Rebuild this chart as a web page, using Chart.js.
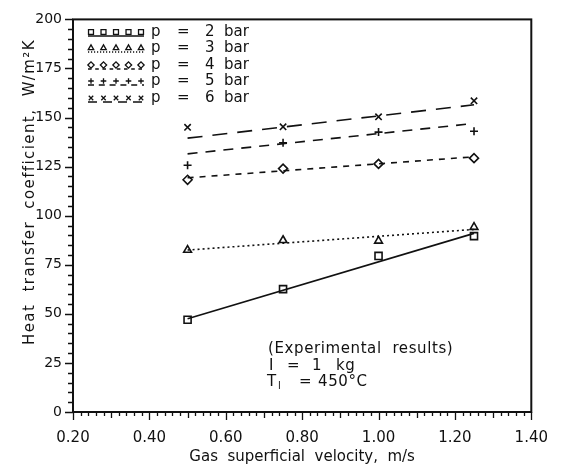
<!DOCTYPE html>
<html>
<head>
<meta charset="utf-8">
<script src="https://cdn.jsdelivr.net/npm/chart.js@4.4.1/dist/chart.umd.min.js"></script>
<style>
  html, body { margin: 0; padding: 0; background: #fff; }
  #wrap { width: 565px; height: 470px; }
</style>
</head>
<body>
<div id="wrap"><canvas id="myChart" width="565" height="470"></canvas></div>
<script>
// Measured points (gas superficial velocity, m/s)
const velocity = [0.5, 0.75, 1.0, 1.25];
const pressures = [2, 3, 4, 5, 6];
const h2 = [47, 62.6, 79.5, 89.6];
const h3 = [82.5, 87.5, 87.2, 94.2];
const h4 = [118.3, 124, 126.4, 129.3];
const h5 = [125.7, 137.2, 142.6, 143];
const h6 = [145, 145.3, 150.4, 158.5];

// Fitted lines, drawn between the end velocities
const fitVelocity = [0.5, 1.25];
const fit2 = [47.5, 91];
const fit3 = [82.5, 93];
const fit4 = [119.3, 130];
const fit5 = [131.5, 147];
const fit6 = [139.5, 156.5];

const xTicks = [0.2, 0.4, 0.6, 0.8, 1.0, 1.2, 1.4];

const FONT = 'DejaVu Sans';
const measured = [h2, h3, h4, h5, h6];
const fits = [fit2, fit3, fit4, fit5, fit6];
const markers = [
    { style: 'rect', radius: 5 },
    { style: 'triangle', radius: 4.5 },
    { style: 'rectRot', radius: 4.5 },
    { style: 'cross', radius: 4 },
    { style: 'crossRot', radius: 4.5 }
];
const dashes = [[], [2, 3], [6, 6], [10, 8], [15, 10]];

const toPoints = (xs, ys) => xs.map((x, i) => ({ x: x, y: ys[i] }));

const datasets = [];
fits.forEach((f, i) => {
    datasets.push({
        label: 'fit p = ' + pressures[i],
        data: toPoints(fitVelocity, f),
        showLine: true,
        borderColor: '#111',
        borderWidth: 1.6,
        borderDash: dashes[i],
        pointRadius: 0
    });
});
measured.forEach((m, i) => {
    datasets.push({
        label: 'p = ' + pressures[i] + ' bar',
        data: toPoints(velocity, m),
        showLine: false,
        pointStyle: markers[i].style,
        pointRadius: markers[i].radius,
        borderColor: '#111',
        borderWidth: 1.6,
        backgroundColor: '#fff'
    });
});

// Frame, outward ticks, legend, notes and y title
const decorations = {
    id: 'decorations',
    afterDraw(chart) {
        const ctx = chart.ctx;
        const a = chart.chartArea;
        const xs = chart.scales.x, ys = chart.scales.y;
        ctx.save();
        ctx.strokeStyle = '#111';
        ctx.lineWidth = 2;
        ctx.strokeRect(a.left, a.top, a.right - a.left, a.bottom - a.top);

        ctx.lineWidth = 1.3;
        ctx.beginPath();
        for (let k = 0; k <= 40; k++) {
            const v = k * 5;
            const py = Math.round(ys.getPixelForValue(v)) + 0.5;
            const len = (v % 25 === 0) ? 8 : 5;
            ctx.moveTo(a.left, py);
            ctx.lineTo(a.left - len, py);
        }
        for (let k = 0; k <= 60; k++) {
            const v = 0.2 + k * 0.02;
            const px = Math.round(xs.getPixelForValue(v)) + 0.5;
            const len = (k % 10 === 0) ? 8 : (k % 5 === 0 ? 6 : 4);
            ctx.moveTo(px, a.bottom);
            ctx.lineTo(px, a.bottom + len);
        }
        ctx.stroke();

        // legend
        const rowY = [32, 48, 65, 81, 98];
        ctx.textBaseline = 'middle';
        ctx.font = '15px ' + FONT;
        pressures.forEach((p, i) => {
            const y = rowY[i];
            ctx.save();
            ctx.lineWidth = 1.3;
            ctx.setLineDash(dashes[i].map(d => d * 0.6));
            ctx.beginPath();
            ctx.moveTo(88, y + 4);
            ctx.lineTo(144, y + 4);
            ctx.stroke();
            ctx.restore();
            ctx.fillStyle = '#fff';
            for (let j = 0; j < 5; j++) {
                Chart.helpers.drawPoint(ctx, {
                    pointStyle: markers[i].style,
                    radius: markers[i].radius * 0.7,
                    borderWidth: 1.4
                }, 91 + j * 12.5, y);
            }
            ctx.fillStyle = '#111';
            ctx.fillText('p', 151, y);
            ctx.fillText('=', 177, y);
            ctx.fillText(String(p), 205, y);
            ctx.fillText('bar', 224, y);
        });

        // note
        ctx.fillStyle = '#111';
        ctx.letterSpacing = '0.6px';
        ctx.fillText('(Experimental  results)', 268, 349);
        ctx.fillText('I', 269, 366);
        ctx.fillText('=', 287, 366);
        ctx.fillText('1', 312, 366);
        ctx.fillText('kg', 336, 366);
        ctx.fillText('T', 267, 382);
        ctx.font = '10px ' + FONT;
        ctx.fillText('l', 278, 386);
        ctx.font = '15px ' + FONT;
        ctx.fillText('=', 299, 382);
        ctx.fillText('450°C', 318, 382);

        // y title
        ctx.translate(30, 192);
        ctx.rotate(-Math.PI / 2);
        ctx.textAlign = 'center';
        ctx.font = '15px ' + FONT;
        ctx.letterSpacing = '1.4px';
        ctx.fillText('Heat  transfer  coefficient,  W/m²K', 0, 0);
        ctx.restore();
    }
};

const ctx = document.getElementById('myChart').getContext('2d');
const htcChart = new Chart(ctx, {
    type: 'scatter',
    data: { datasets: datasets },
    options: {
        responsive: false,
        animation: false,
        layout: { padding: { top: 15, right: 17, left: 0, bottom: 0 } },
        plugins: {
            legend: { display: false },
            tooltip: { enabled: false }
        },
        scales: {
            x: {
                type: 'linear',
                min: 0.2,
                max: 1.4,
                afterFit: s => { s.height = 58; },
                afterBuildTicks: s => { s.ticks = xTicks.map(v => ({ value: v })); },
                grid: { display: false, drawTicks: false },
                border: { display: false },
                ticks: {
                    padding: 17,
                    color: '#111',
                    font: { family: FONT, size: 15 },
                    maxRotation: 0,
                    callback: v => Number(v).toFixed(2)
                },
                title: {
                    display: true,
                    text: 'Gas  superficial  velocity,  m/s',
                    color: '#111',
                    font: { family: FONT, size: 15 },
                    padding: { top: 0, bottom: 4 }
                }
            },
            y: {
                min: 0,
                max: 200,
                afterFit: s => { s.width = 73; },
                grid: { display: false, drawTicks: false },
                border: { display: false },
                ticks: {
                    stepSize: 25,
                    padding: 11,
                    color: '#111',
                    font: { family: FONT, size: 14 }
                }
            }
        }
    },
    plugins: [decorations]
});
</script>
</body>
</html>
